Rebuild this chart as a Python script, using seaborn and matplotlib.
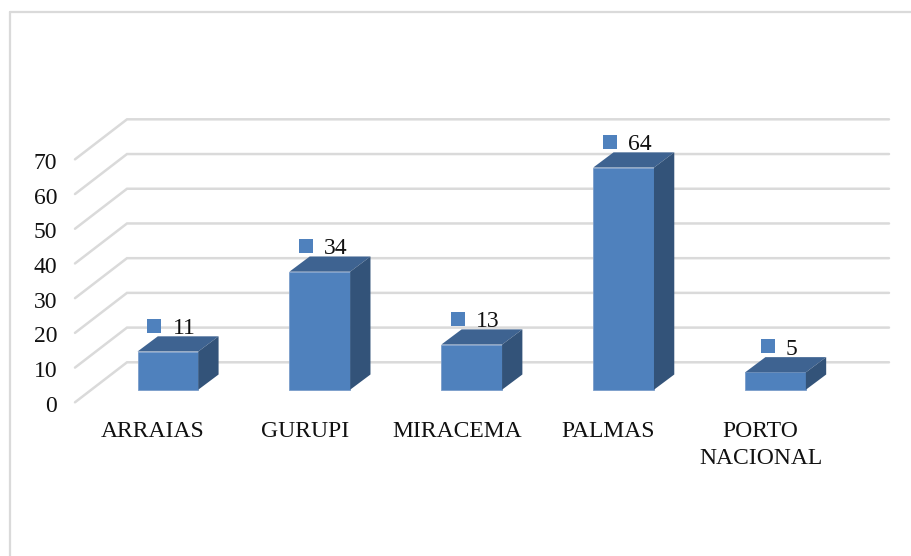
import matplotlib
matplotlib.use("Agg")
import matplotlib.pyplot as plt
from matplotlib.lines import Line2D
from matplotlib.patches import Polygon
import pandas as pd
import seaborn as sns

categories = ["ARRAIAS", "GURUPI", "MIRACEMA", "PALMAS", "PORTO\nNACIONAL"]
values = [11, 34, 13, 64, 5]
y_ticks = [0, 10, 20, 30, 40, 50, 60, 70]

W, H = 912, 556
FRONT, TOP, SIDE = "#4F81BD", "#3E6391", "#335379"
GRID = "#DADADA"
FS = 17
PX_X = 151.9          # pixels per category
PX_Y = 3.471          # pixels per value unit
X0, Y0 = 167.9, 389.7 # pixel position of category 0 / value 0 on the bar plane

sns.set_theme(style="white")
plt.rcParams["font.family"] = ["Liberation Serif", "DejaVu Serif"]

fig = plt.figure(figsize=(W / 100, H / 100), dpi=100)
L, R, T, B = 62, 905, 100, 412
ax = fig.add_axes([L / W, 1 - B / H, (R - L) / W, (B - T) / H])

df = pd.DataFrame({"cat": categories, "val": values})
sns.barplot(data=df, x="cat", y="val", ax=ax, color=FRONT, saturation=1, width=0.4,
            edgecolor="#7A9DCA", linewidth=0.6, zorder=3)
ax.set_xlim((L - X0) / PX_X, (R - X0) / PX_X)
ax.set_ylim((Y0 - B) / PX_Y, (Y0 - T) / PX_Y)
ax.set_xlabel("")
ax.set_ylabel("")
ax.set_xticks([])
ax.set_yticks([])
for s in ax.spines.values():
    s.set_visible(False)
ax.patch.set_alpha(0)

# bar depth, in data units
DX, DY = 20.3 / PX_X, 15.2 / PX_Y
for bar in list(ax.patches):
    x, w, h = bar.get_x(), bar.get_width(), bar.get_height()
    ax.add_patch(Polygon([(x, h), (x + w, h), (x + w + DX, h + DY), (x + DX, h + DY)],
                         closed=True, fc=TOP, ec="none", zorder=3))
    ax.add_patch(Polygon([(x + w, 0), (x + w + DX, DY), (x + w + DX, h + DY), (x + w, h)],
                         closed=True, fc=SIDE, ec="none", zorder=3))

# gridlines: diagonal floor-to-wall stub, then along the back wall
x_front = (75 - X0) / PX_X
x_back = (127 - X0) / PX_X
x_end = (889 - X0) / PX_X
off_front = (Y0 - 402.3) / PX_Y
off_back = (Y0 - 362.3) / PX_Y
for v in y_ticks:
    ax.plot([x_front, x_back, x_end], [v + off_front, v + off_back, v + off_back],
            color=GRID, lw=1.8, zorder=1, solid_joinstyle="miter", clip_on=False)

# value axis, aligned with the front ends of the gridlines
off_label = (Y0 - 403.8) / PX_Y
sec_y = ax.secondary_yaxis("left", functions=(lambda p: p - off_label, lambda s: s + off_label))
sec_y.set_yticks(y_ticks)
sec_y.tick_params(axis="y", length=0, pad=3.5, labelsize=FS, labelcolor="#111111")
sec_y.spines["left"].set_visible(False)

# category axis, labels sit left of the bar centres
shift = 15 / PX_X
sec_x = ax.secondary_xaxis("bottom", functions=(lambda p: p + shift, lambda s: s - shift))
sec_x.set_xticks(range(len(categories)))
sec_x.set_xticklabels(categories, linespacing=1.4)
sec_x.tick_params(axis="x", length=0, pad=6.5, labelsize=FS, labelcolor="#111111")
sec_x.spines["bottom"].set_visible(False)

# data labels with their square keys: key and number are centred as a group
key_x = [i - (13.6 - 6 * (2 - len(str(v)))) / PX_X for i, v in enumerate(values)]
key_y = [v + 26 / PX_Y for v in values]
sns.scatterplot(x=key_x, y=key_y, ax=ax, marker="s", color=FRONT, s=88, linewidth=0, zorder=4)
for i, v in enumerate(values):
    ax.text(i + 16 / PX_X, v + 23 / PX_Y, str(v), ha="center", va="center",
            fontsize=FS, color="#111111", zorder=2)

# chart frame
for xs, ys in [((10, 10), (12, H)), ((10, W), (12, 12))]:
    fig.add_artist(Line2D([x / W for x in xs], [1 - y / H for y in ys],
                          color=GRID, lw=1.6))

fig.savefig("out.png", dpi=100)
